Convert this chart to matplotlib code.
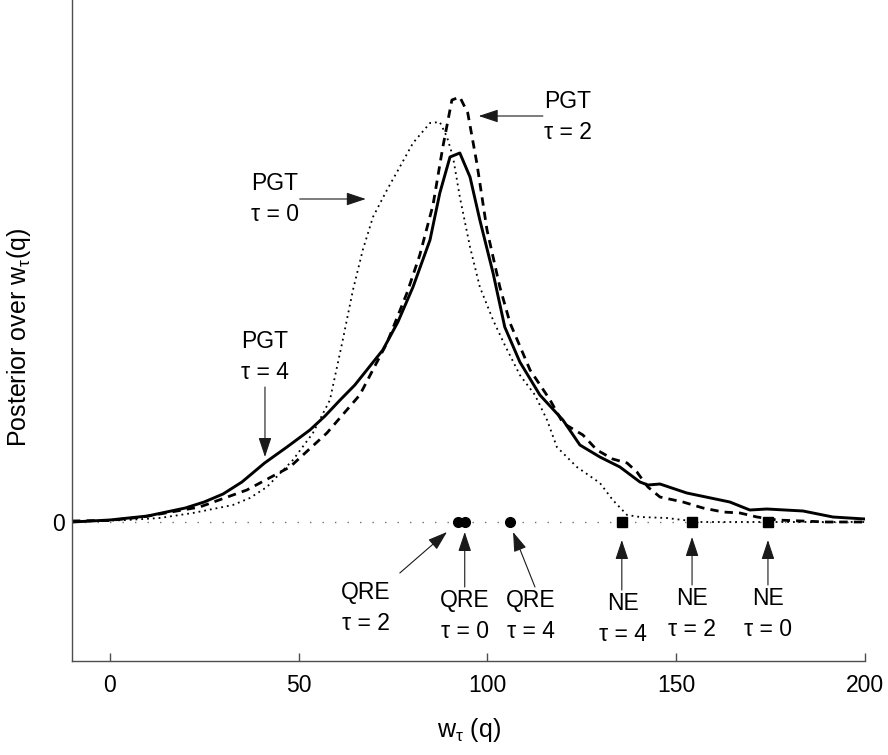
import numpy as np
import matplotlib
matplotlib.use("Agg")
from matplotlib import pyplot as plt

plt.rcParams['font.family'] = ['Liberation Sans', 'DejaVu Sans']
plt.rcParams['mathtext.fontset'] = 'custom'
plt.rcParams['mathtext.rm'] = 'Liberation Sans'
plt.rcParams['mathtext.it'] = 'Liberation Sans'

# posterior curves (arbitrary y units)
w_tau4 = [-10, 0, 10, 20, 25, 30, 35, 41, 47, 53, 57, 61, 64.9, 72.3, 76.3, 80.3, 84.8, 87.4,
          90.1, 92.7, 95.4, 98.0, 101.5, 104.6, 108.6, 113.9, 120, 124.5, 129.8, 135.1,
          140.4, 142.5, 145.7, 152.8, 164.2, 169.5, 174, 183.6, 191.5, 200]
p_tau4 = [0.0, 0.005, 0.015, 0.035, 0.05, 0.07, 0.1, 0.1475, 0.188, 0.23, 0.265, 0.305,
          0.3425, 0.43, 0.50, 0.5875, 0.705, 0.8225, 0.9125, 0.9225, 0.8625, 0.755, 0.6225,
          0.4875, 0.40, 0.3175, 0.255, 0.1925, 0.1625, 0.1375, 0.10, 0.0925, 0.095, 0.0725,
          0.05, 0.03, 0.0325, 0.0275, 0.0125, 0.0075]

w_tau2 = [-10, 0, 8.7, 23.8, 36.3, 47.7, 57.5, 66.2, 73.4, 78.7, 82.1, 85.6, 88.2, 90.6, 92.7,
          94.8, 97.2, 99.9, 103.3, 106.0, 111.3, 116.6, 120, 125.3, 129.0, 133.2, 137.0,
          139.6, 142.5, 145.7, 151.8, 157.1, 162.4, 166.9, 171.4, 176.7, 189.9, 200]
p_tau2 = [0.0025, 0.004, 0.0125, 0.0375, 0.08, 0.1375, 0.2225, 0.3175, 0.4475, 0.5725, 0.6675,
          0.7925, 0.9375, 1.055, 1.0625, 1.0225, 0.8975, 0.73, 0.5875, 0.4975, 0.38, 0.305,
          0.2475, 0.2175, 0.18, 0.1575, 0.1475, 0.125, 0.0875, 0.0625, 0.05, 0.035, 0.025,
          0.0225, 0.0125, 0.005, 0.0, 0.0]

w_tau0 = [-10, 4.5, 13.2, 22.0, 32.6, 37.1, 41.6, 48.5, 53.8, 58.3, 61.7, 64.4, 67.0, 69.7,
          73.4, 76.8, 80.3, 84.8, 87.4, 89.3, 90.9, 92.7, 95.4, 98.0, 101.5, 104.6, 108.6,
          112.6, 115.8, 118.4, 123.7, 129.8, 133.2, 137.0, 140.4, 147.5, 151.8, 156.3, 200]
p_tau0 = [0.0, 0.005, 0.01, 0.0225, 0.0425, 0.06, 0.0875, 0.155, 0.2225, 0.305, 0.455, 0.58,
          0.68, 0.7625, 0.83, 0.8875, 0.9475, 0.9975, 1.0, 0.9625, 0.9125, 0.8125, 0.6875,
          0.5875, 0.505, 0.4425, 0.3675, 0.3175, 0.255, 0.1875, 0.1375, 0.0975, 0.055,
          0.0175, 0.0125, 0.01, 0.005, 0.0, 0.0]

# equilibrium predictions
qre_w = [92.2, 94.0, 106.0]
ne_w = [135.6, 154.2, 174.3]

xticks = [0, 50, 100, 150, 200]

# annotations: text, text position, arrow start, arrow end
notes = [
    ("PGT\n\u03c4 = 0", (43.7, 0.8075), (50.3, 0.8075), (67.8, 0.8075)),
    ("PGT\n\u03c4 = 2", (121.3, 1.0125), (114.7, 1.015), (97.7, 1.015)),
    ("PGT\n\u03c4 = 4", (41.1, 0.4125), (41.1, 0.3375), (41.1, 0.1625)),
    ("QRE\n\u03c4 = 2", (67.8, -0.215), (76.8, -0.1275), (89.3, -0.025)),
    ("QRE\n\u03c4 = 0", (94.0, -0.235), (94.0, -0.1625), (94.0, -0.025)),
    ("QRE\n\u03c4 = 4", (111.5, -0.235), (112.6, -0.1625), (106.8, -0.025)),
    ("NE\n\u03c4 = 4", (136.0, -0.2425), (135.6, -0.17), (135.6, -0.045)),
    ("NE\n\u03c4 = 2", (154.2, -0.23), (154.2, -0.1575), (154.2, -0.0375)),
    ("NE\n\u03c4 = 0", (174.3, -0.23), (174.3, -0.1575), (174.3, -0.045)),
]

fig = plt.figure(figsize=(8.88, 7.55), dpi=100)
ax = fig.add_axes([0.0811, 0.1245, 0.893, 0.8755])

ax.plot([-10, 200], [0, 0], color='0.45', lw=1, linestyle=(0, (1, 8)))
ax.plot(w_tau0, p_tau0, color='black', lw=1.3, linestyle=(0, (1, 2.2)))
ax.plot(w_tau2, p_tau2, color='black', lw=2, linestyle=(0, (3, 2.2)))
ax.plot(w_tau4, p_tau4, color='black', lw=2.1)

ax.plot(qre_w, [0] * len(qre_w), 'o', color='black', ms=7)
ax.plot(ne_w, [0] * len(ne_w), 's', color='black', ms=7)

for txt, tpos, start, end in notes:
    ax.text(tpos[0], tpos[1], txt, ha='center', va='center', fontsize=16.5,
            linespacing=1.4, multialignment='center')
    ax.annotate('', xy=end, xytext=start,
                arrowprops=dict(arrowstyle='-|>,head_length=0.6,head_width=0.2',
                                color='0.1', lw=0.8, mutation_scale=20,
                                shrinkA=0, shrinkB=0))

ax.set_xlim(-10, 200)
ax.set_ylim(-0.3475, 1.305)
ax.set_xticks(xticks)
ax.set_yticks([0])
ax.tick_params(axis='x', direction='in', length=6, width=1, color='0.3',
               labelsize=16.5, pad=9)
ax.tick_params(axis='y', direction='in', length=0, labelsize=16.5, pad=5)
for side in ['top', 'right']:
    ax.spines[side].set_visible(False)
for side in ['left', 'bottom']:
    ax.spines[side].set_color('0.3')
    ax.spines[side].set_linewidth(1)

ax.set_xlabel('w$_\\tau$ (q)', fontsize=18, labelpad=14)
ax.set_ylabel('Posterior over w$_\\tau$(q)', fontsize=18)
ax.yaxis.set_label_coords(-0.049, 0.49)

fig.savefig('out.png', dpi=100)
